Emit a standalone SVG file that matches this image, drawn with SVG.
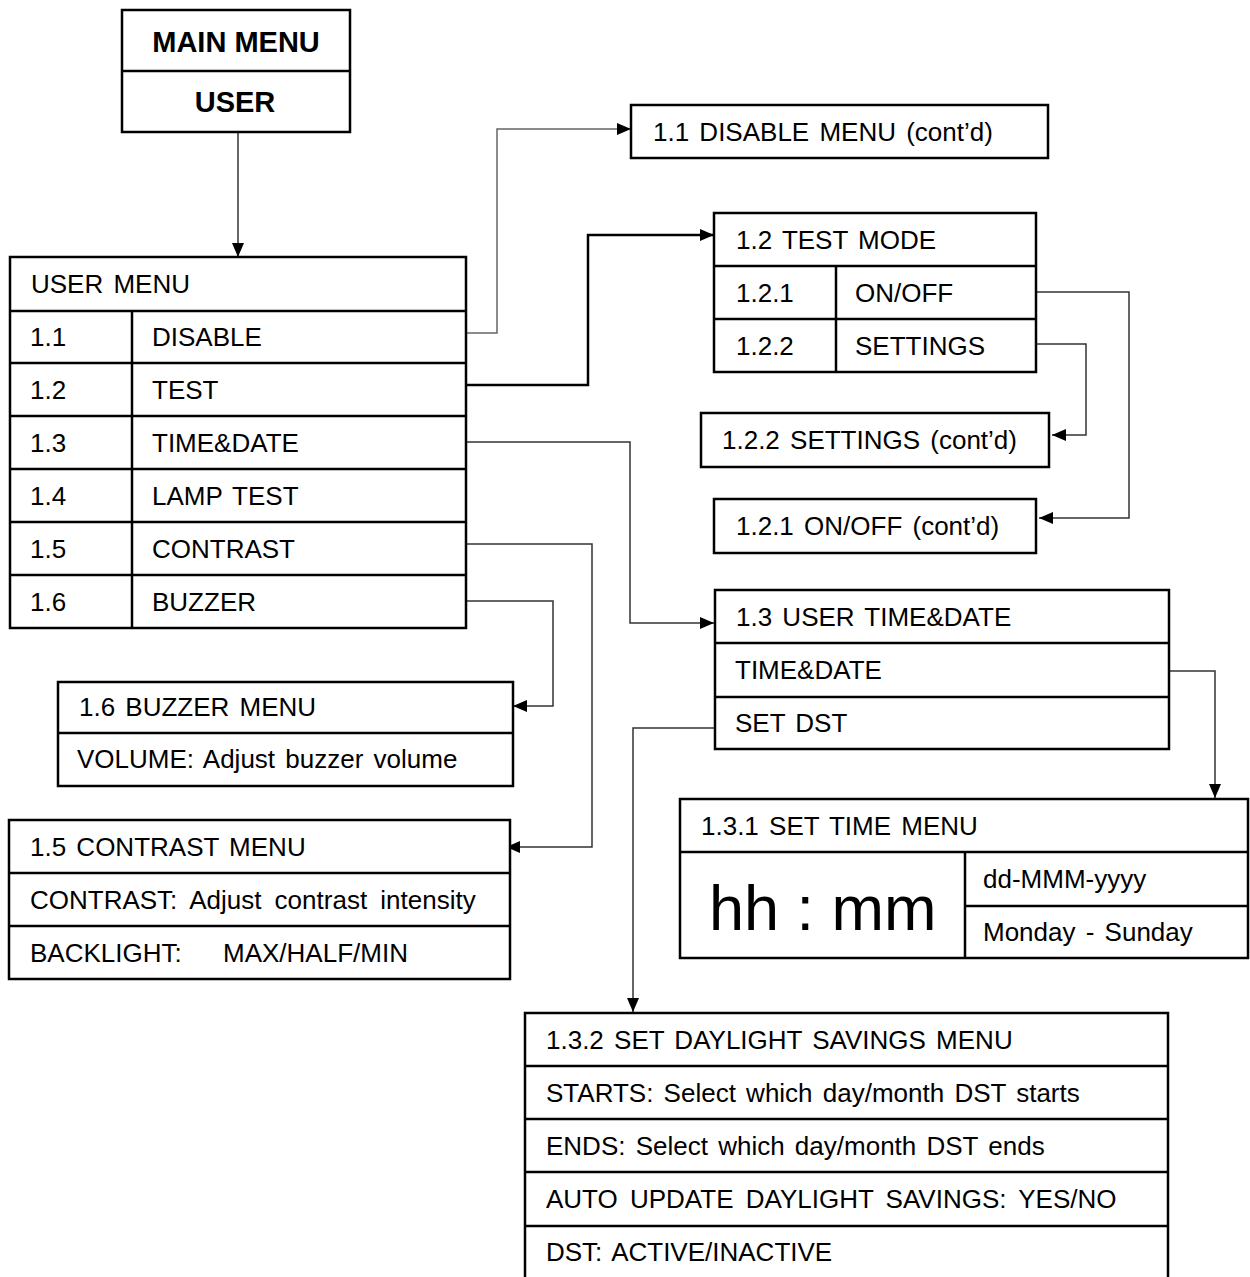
<svg xmlns="http://www.w3.org/2000/svg" width="1250" height="1277" viewBox="0 0 1250 1277">
<style>
.box{fill:#fff;stroke:#000;stroke-width:2.5}
.ln{fill:none;stroke:#000;stroke-width:2.5}
.t{font-family:"Liberation Sans",Arial,sans-serif;font-size:26px;word-spacing:3px;fill:#000}
.b{font-family:"Liberation Sans",Arial,sans-serif;font-size:29px;font-weight:bold;fill:#000;text-anchor:middle}
.big{font-family:"Liberation Sans",Arial,sans-serif;font-size:63px;fill:#000}
.c{fill:none;stroke:#333;stroke-width:1.5}
.c2{fill:none;stroke:#000;stroke-width:2.5}
</style>
<defs>
<marker id="ah" viewBox="0 0 14 12" refX="14" refY="6" markerWidth="14" markerHeight="12" markerUnits="userSpaceOnUse" orient="auto">
<path d="M0,0 L14,6 L0,12 Z" fill="#000"/>
</marker>
</defs>
<rect width="1250" height="1277" fill="#fff"/>

<g id="connectors">
<path class="c" d="M238,132 V257" marker-end="url(#ah)"/>
<path class="c" d="M466,333 H497 V129 H631" style="stroke:#666" marker-end="url(#ah)"/>
<path class="c2" d="M466,385 H588 V235 H714" marker-end="url(#ah)"/>
<path class="c" d="M1036,292 H1129 V518 H1039" marker-end="url(#ah)"/>
<path class="c" d="M1036,344 H1086 V435 H1052" marker-end="url(#ah)"/>
<path class="c" d="M466,442 H630 V623 H714" marker-end="url(#ah)"/>
<path class="c" d="M466,544 H592 V847 H506" marker-end="url(#ah)"/>
<path class="c" d="M466,601 H553 V706 H513" marker-end="url(#ah)"/>
<path class="c" d="M1169,671 H1215 V798" marker-end="url(#ah)"/>
<path class="c" d="M715,728 H633 V1012" marker-end="url(#ah)"/>
</g>

<g id="main-menu">
<rect class="box" x="122" y="10" width="228" height="122"/>
<path class="ln" d="M122,71 H350"/>
<text class="b" x="236" y="52">MAIN MENU</text>
<text class="b" x="235" y="112">USER</text>
</g>

<g id="user-menu">
<rect class="box" x="10" y="257" width="456" height="371"/>
<path class="ln" d="M10,311 H466 M10,363 H466 M10,416 H466 M10,469 H466 M10,522 H466 M10,575 H466 M132,311 V628"/>
<text class="t" x="31" y="293">USER MENU</text>
<text class="t" x="30" y="346">1.1</text><text class="t" x="152" y="346">DISABLE</text>
<text class="t" x="30" y="399">1.2</text><text class="t" x="152" y="399">TEST</text>
<text class="t" x="30" y="452">1.3</text><text class="t" x="152" y="452">TIME&amp;DATE</text>
<text class="t" x="30" y="505">1.4</text><text class="t" x="152" y="505">LAMP TEST</text>
<text class="t" x="30" y="558">1.5</text><text class="t" x="152" y="558">CONTRAST</text>
<text class="t" x="30" y="611">1.6</text><text class="t" x="152" y="611">BUZZER</text>
</g>

<g id="disable-menu">
<rect class="box" x="631" y="105" width="417" height="53"/>
<text class="t" x="653" y="141">1.1 DISABLE MENU (cont’d)</text>
</g>

<g id="test-mode">
<rect class="box" x="714" y="213" width="322" height="159"/>
<path class="ln" d="M714,266 H1036 M714,319 H1036 M836,266 V372"/>
<text class="t" x="736" y="249">1.2 TEST MODE</text>
<text class="t" x="736" y="302">1.2.1</text><text class="t" x="855" y="302">ON/OFF</text>
<text class="t" x="736" y="355">1.2.2</text><text class="t" x="855" y="355">SETTINGS</text>
</g>

<g id="settings-contd">
<rect class="box" x="701" y="413" width="348" height="54"/>
<text class="t" x="722" y="449">1.2.2 SETTINGS (cont’d)</text>
</g>

<g id="onoff-contd">
<rect class="box" x="714" y="499" width="322" height="54"/>
<text class="t" x="736" y="535">1.2.1 ON/OFF (cont’d)</text>
</g>

<g id="user-time-date">
<rect class="box" x="715" y="590" width="454" height="159"/>
<path class="ln" d="M715,643 H1169 M715,697 H1169"/>
<text class="t" x="736" y="626">1.3 USER TIME&amp;DATE</text>
<text class="t" x="735" y="679">TIME&amp;DATE</text>
<text class="t" x="735" y="732">SET DST</text>
</g>

<g id="buzzer-menu">
<rect class="box" x="58" y="682" width="455" height="104"/>
<path class="ln" d="M58,733 H513"/>
<text class="t" x="79" y="716">1.6 BUZZER MENU</text>
<text class="t" x="77" y="768">VOLUME: Adjust buzzer volume</text>
</g>

<g id="contrast-menu">
<rect class="box" x="9" y="820" width="501" height="159"/>
<path class="ln" d="M9,873 H510 M9,926 H510"/>
<text class="t" x="30" y="856">1.5 CONTRAST MENU</text>
<text class="t" x="30" y="909" style="word-spacing:6px">CONTRAST: Adjust contrast intensity</text>
<text class="t" x="30" y="962">BACKLIGHT:<tspan x="223">MAX/HALF/MIN</tspan></text>
</g>

<g id="set-time-menu">
<rect class="box" x="680" y="799" width="568" height="159"/>
<path class="ln" d="M680,852 H1248 M965,852 V958 M965,906 H1248"/>
<text class="t" x="701" y="835">1.3.1 SET TIME MENU</text>
<text class="big" x="709" y="930">hh : mm</text>
<text class="t" x="983" y="888">dd-MMM-yyyy</text>
<text class="t" x="983" y="941">Monday - Sunday</text>
</g>

<g id="dst-menu">
<rect class="box" x="525" y="1013" width="643" height="280"/>
<path class="ln" d="M525,1066 H1168 M525,1119 H1168 M525,1172 H1168 M525,1226 H1168"/>
<text class="t" x="546" y="1049">1.3.2 SET DAYLIGHT SAVINGS MENU</text>
<text class="t" x="546" y="1102">STARTS: Select which day/month DST starts</text>
<text class="t" x="546" y="1155">ENDS: Select which day/month DST ends</text>
<text class="t" x="546" y="1208" style="word-spacing:5px">AUTO UPDATE DAYLIGHT SAVINGS: YES/NO</text>
<text class="t" x="546" y="1261">DST: ACTIVE/INACTIVE</text>
</g>
</svg>
